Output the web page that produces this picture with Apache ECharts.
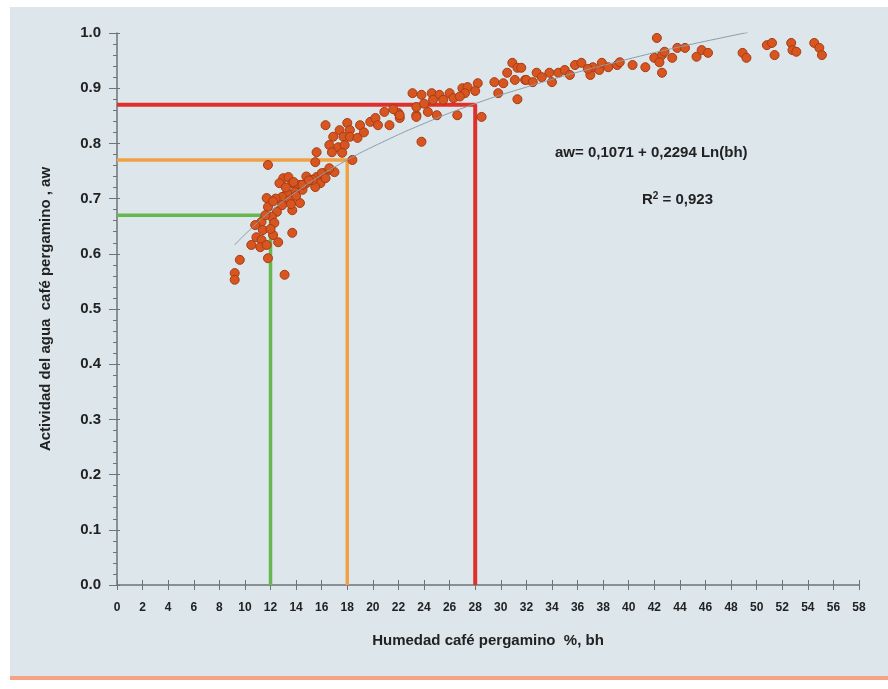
<!DOCTYPE html>
<html>
<head>
<meta charset="utf-8">
<script src="https://cdn.jsdelivr.net/npm/echarts@6/dist/echarts.min.js"></script>
<style>
html,body{margin:0;padding:0;background:#ffffff;}
#chart{width:888px;height:689px;}
</style>
</head>
<body>
<div id="chart"></div>
<script>
// ---- Data ----
var xTicks = [0,2,4,6,8,10,12,14,16,18,20,22,24,26,28,30,32,34,36,38,40,42,44,46,48,50,52,54,56,58];
var yTicks = [0.0,0.1,0.2,0.3,0.4,0.5,0.6,0.7,0.8,0.9,1.0];

var humedad = [
  11.8,13.0,13.4,12.7,13.7,14.3,14.8,15.2,15.6,16.1,16.6,17.0,15.9,15.5,14.5,13.9,13.3,12.9,11.7,13.5,
  14.3,12.9,11.8,13.7,12.5,12.1,11.3,10.8,12.3,11.4,10.9,11.3,13.7,12.2,12.6,10.5,11.2,11.7,9.6,11.8,
  9.2,9.2,13.1,
  16.3,17.4,18.0,18.2,19.0,19.8,20.2,20.4,20.9,21.3,22.0,22.1,23.4,16.9,17.7,18.2,18.8,16.6,17.3,17.8,
  16.8,17.6,15.6,18.4,15.5,16.6,16.0,16.3,15.3,14.5,13.8,
  23.1,23.8,24.6,25.2,26.0,27.0,27.4,28.2,27.2,26.3,25.5,24.7,23.4,24.3,25.0,23.4,22.1,26.6,28.5,23.8,
  29.5,30.2,30.5,30.9,31.3,31.1,31.9,29.8,31.3,
  31.6,32.0,32.5,32.8,33.8,34.0,34.5,35.0,35.4,35.8,36.3,37.0,37.2,37.7,37.9,38.4,39.1,39.3,40.3,41.3,
  42.2,42.0,42.6,42.8,42.4,43.4,43.8,44.4,42.6,45.3,45.7,46.2,
  48.9,49.2,50.8,51.2,51.4,52.7,52.8,53.1,54.5,54.9,55.1,
  12.4,13.2,14.0,12.0,11.6,14.8,19.3,12.2,13.6,15.0,21.6,24.0,26.8,28.0,33.2,36.8
];
var actividad = [
  0.761,0.737,0.739,0.728,0.728,0.725,0.728,0.734,0.739,0.746,0.752,0.748,0.728,0.721,0.716,0.712,0.710,0.703,0.701,0.697,
  0.692,0.688,0.685,0.679,0.676,0.667,0.658,0.652,0.656,0.643,0.630,0.625,0.638,0.634,0.621,0.616,0.612,0.616,0.589,0.592,
  0.565,0.553,0.562,
  0.833,0.824,0.837,0.824,0.833,0.839,0.846,0.833,0.857,0.833,0.855,0.846,0.851,0.812,0.812,0.812,0.810,0.797,0.793,0.797,
  0.784,0.783,0.784,0.770,0.766,0.755,0.746,0.737,0.734,0.725,0.730,
  0.891,0.888,0.891,0.888,0.891,0.900,0.902,0.909,0.891,0.882,0.879,0.879,0.866,0.857,0.851,0.848,0.851,0.851,0.848,0.803,
  0.911,0.909,0.928,0.946,0.937,0.915,0.915,0.891,0.880,
  0.937,0.915,0.911,0.928,0.928,0.911,0.928,0.933,0.924,0.942,0.946,0.924,0.938,0.933,0.946,0.938,0.942,0.947,0.942,0.938,
  0.991,0.955,0.960,0.966,0.947,0.955,0.973,0.973,0.928,0.957,0.969,0.964,
  0.964,0.955,0.978,0.982,0.960,0.982,0.969,0.966,0.982,0.973,0.960,
  0.700,0.720,0.705,0.645,0.670,0.740,0.820,0.695,0.690,0.733,0.862,0.872,0.885,0.895,0.920,0.935
];

// logarithmic trend line as drawn
var trendX = [9.2,10,12,14,16,18,20,24,28,32,36,40,44,49.3];
var trendY = [0.616,0.635,0.677,0.712,0.743,0.770,0.794,0.836,0.872,0.902,0.929,0.953,0.975,1.001];

// guide lines
var redX = [0,28,28],   redY = [0.87,0.87,0];
var orangeX = [0,18,18], orangeY = [0.77,0.77,0];
var greenX = [0,12,12], greenY = [0.67,0.67,0];

var eqText = 'aw= 0,1071 + 0,2294 Ln(bh)';
var r2Text = '0,923';
var xName = 'Humedad café pergamino  %, bh';
var yName = 'Actividad del agua  café pergamino , aw';

function zip(a,b){ return a.map(function(v,i){ return [v,b[i]]; }); }

var chart = echarts.init(document.getElementById('chart'));
var axisColor = '#6d7478';
var gridBox = {left:117, right:29, top:33, bottom:104};
var font = 'Liberation Sans, Arial, sans-serif';

var option = {
  backgroundColor: '#ffffff',
  animation: false,
  graphic: [
    {type:'rect', left:10, top:7, shape:{width:878, height:669}, style:{fill:'#dce6eb'}, z:-10},
    {type:'rect', left:10, top:676, shape:{width:878, height:4}, style:{fill:'#f3a482'}, z:-10},
    {type:'text', left:555, top:145, style:{text:eqText, font:'bold 15px ' + font, fill:'#222'}},
    {type:'text', left:642, top:191, style:{
      text:'{b|R}{s|2}{b| = ' + r2Text + '}',
      rich:{ b:{font:'bold 15px ' + font, fill:'#222'}, s:{font:'bold 10px ' + font, fill:'#222', padding:[0,0,8,0]} }
    }}
  ],
  grid: [
    Object.assign({}, gridBox),
    Object.assign({}, gridBox)
  ],
  xAxis: [
    {
      type:'value', gridIndex:0, min:0, max:58, interval:2,
      name:xName, nameLocation:'middle', nameGap:48,
      nameTextStyle:{fontFamily:font, fontWeight:'bold', fontSize:15, color:'#222'},
      axisLine:{show:true, lineStyle:{color:axisColor, width:1.5}},
      axisTick:{show:true, length:5, lineStyle:{color:axisColor}},
      axisLabel:{margin:17, fontFamily:'Liberation Sans Narrow, Liberation Sans, sans-serif', fontWeight:'bold', fontSize:12, color:'#222',
        formatter:function(v){ return xTicks.indexOf(v) >= 0 ? String(v) : ''; }},
      splitLine:{show:false}
    },
    {
      type:'value', gridIndex:1, min:0, max:58, interval:2,
      axisLine:{show:false}, axisTick:{show:true, inside:true, length:5, lineStyle:{color:axisColor}},
      axisLabel:{show:false}, splitLine:{show:false}
    }
  ],
  yAxis: [
    {
      type:'value', gridIndex:0, min:0, max:1, interval:0.1,
      name:yName, nameLocation:'middle', nameGap:64,
      nameTextStyle:{fontFamily:font, fontWeight:'bold', fontSize:15, color:'#222'},
      axisLine:{show:true, lineStyle:{color:axisColor, width:1.5}},
      axisTick:{show:true, length:8, lineStyle:{color:axisColor}},
      minorTick:{show:true, splitNumber:5, length:4, lineStyle:{color:axisColor}},
      axisLabel:{margin:16, fontFamily:font, fontWeight:'bold', fontSize:15, color:'#222',
        formatter:function(v){ return v.toFixed(1); }},
      splitLine:{show:false}
    },
    {
      type:'value', gridIndex:1, min:0, max:1, interval:0.1,
      axisLine:{show:false},
      axisTick:{show:true, inside:true, length:3, lineStyle:{color:axisColor}},
      minorTick:{show:false},
      axisLabel:{show:false}, splitLine:{show:false}
    }
  ],
  series: [
    {type:'line', data:zip(redX,redY), symbol:'none', lineStyle:{color:'#e1302c', width:4}, z:2},
    {type:'line', data:zip(orangeX,orangeY), symbol:'none', lineStyle:{color:'#f0a145', width:3.5}, z:2},
    {type:'line', data:zip(greenX,greenY), symbol:'none', lineStyle:{color:'#66b84e', width:3.5}, z:2},
    {type:'scatter', data:zip(humedad,actividad), symbolSize:9,
      itemStyle:{color:'#d95520', borderColor:'#a43d16', borderWidth:1, opacity:1}, z:3},
    {type:'line', data:zip(trendX,trendY), symbol:'none', smooth:true,
      lineStyle:{color:'#8e9ca6', width:1}, z:4}
  ]
};
chart.setOption(option);
</script>
</body>
</html>
